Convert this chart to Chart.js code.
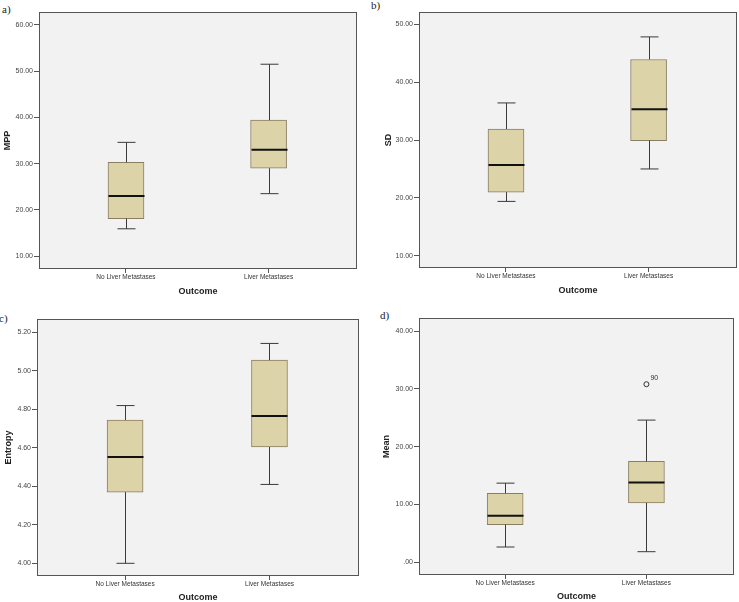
<!DOCTYPE html>
<html>
<head>
<meta charset="utf-8">
<script src="https://cdn.jsdelivr.net/npm/chart.js@4"></script>
<style>
  body { margin: 0; background: #fff; width: 739px; height: 602px; position: relative; overflow: hidden; }
  canvas { position: absolute; }
  .tag { position: absolute; font-family: "Liberation Serif", serif; font-size: 11px; color: #222; }
</style>
</head>
<body>
<div class="tag" style="left:2px;top:3px">a)</div>
<div class="tag" style="left:371px;top:-1px">b)</div>
<div class="tag" style="left:-1px;top:312px">c)</div>
<div class="tag" style="left:380px;top:309px">d)</div>
<canvas id="cA" width="370" height="300" style="left:0;top:0"></canvas>
<canvas id="cB" width="369" height="300" style="left:370px;top:0"></canvas>
<canvas id="cC" width="370" height="302" style="left:0;top:300px"></canvas>
<canvas id="cD" width="369" height="302" style="left:370px;top:300px"></canvas>
<script>
const categories = ["No Liver Metastases", "Liver Metastases"];

// a) MPP
const mppLow = [15.9, 23.5];
const mppQ1 = [18.1, 29.0];
const mppMed = [23.0, 33.0];
const mppQ3 = [30.3, 39.4];
const mppHigh = [34.6, 51.5];
const mppTicks = [10, 20, 30, 40, 50, 60];

// b) SD
const sdLow = [19.4, 25.0];
const sdQ1 = [21.0, 29.9];
const sdMed = [25.7, 35.3];
const sdQ3 = [31.9, 43.9];
const sdHigh = [36.4, 47.8];
const sdTicks = [10, 20, 30, 40, 50];

// c) Entropy
const entLow = [4.00, 4.41];
const entQ1 = [4.37, 4.605];
const entMed = [4.553, 4.766];
const entQ3 = [4.745, 5.056];
const entHigh = [4.82, 5.143];
const entTicks = [4.0, 4.2, 4.4, 4.6, 4.8, 5.0, 5.2];

// d) Mean
const meanLow = [2.66, 1.85];
const meanQ1 = [6.54, 10.29];
const meanMed = [8.05, 13.82];
const meanQ3 = [11.95, 17.46];
const meanHigh = [13.7, 24.6];
const meanTicks = [0, 10, 20, 30, 40];
const meanOutliers = [{ cat: 1, value: 30.8, caseNo: "90" }];

Chart.defaults.font.family = "'Liberation Sans', Arial, sans-serif";

function spssLabel(v) {
  let s = Number(v).toFixed(2);
  if (s.startsWith("0.")) s = s.slice(1);
  return s;
}

function boxParts(st) {
  return {
    id: "boxParts",
    beforeDraw(chart) {
      const a = chart.chartArea, ctx = chart.ctx;
      ctx.save();
      ctx.fillStyle = "#f2f2f2";
      ctx.fillRect(a.left, a.top, a.right - a.left, a.bottom - a.top);
      ctx.restore();
    },
    afterDatasetsDraw(chart) {
      const xs = chart.scales.x, ys = chart.scales.y, ctx = chart.ctx;
      ctx.save();
      st.low.forEach((lo, i) => {
        const px = Math.round(xs.getPixelForValue(i)) + 0.5;
        const yLo = ys.getPixelForValue(lo), yHi = ys.getPixelForValue(st.high[i]);
        const yQ1 = ys.getPixelForValue(st.q1[i]), yQ3 = ys.getPixelForValue(st.q3[i]);
        const yMed = ys.getPixelForValue(st.med[i]);
        ctx.strokeStyle = "#3a3a3a";
        ctx.lineWidth = 1;
        ctx.beginPath();
        ctx.moveTo(px, yLo); ctx.lineTo(px, yQ1);
        ctx.moveTo(px, yQ3); ctx.lineTo(px, yHi);
        ctx.moveTo(px - 9, yLo); ctx.lineTo(px + 9, yLo);
        ctx.moveTo(px - 9, yHi); ctx.lineTo(px + 9, yHi);
        ctx.stroke();
        ctx.strokeStyle = "#111";
        ctx.lineWidth = 2;
        ctx.beginPath();
        ctx.moveTo(px - 18, yMed); ctx.lineTo(px + 18, yMed);
        ctx.stroke();
      });
      if (st.outliers) {
        const meta = chart.getDatasetMeta(1);
        ctx.fillStyle = "#333";
        ctx.font = "7px 'Liberation Sans', Arial, sans-serif";
        ctx.textAlign = "left";
        ctx.textBaseline = "middle";
        meta.data.forEach((pt, k) => {
          ctx.fillText(st.outliers[k].caseNo, pt.x + 4, pt.y - 6);
        });
      }
      ctx.restore();
    },
    afterDraw(chart) {
      const a = chart.chartArea, ctx = chart.ctx;
      ctx.save();
      ctx.strokeStyle = "#555";
      ctx.lineWidth = 1;
      ctx.strokeRect(Math.round(a.left) + 0.5, Math.round(a.top) + 0.5,
        Math.round(a.right - a.left) - 1, Math.round(a.bottom - a.top) - 1);
      ctx.restore();
    }
  };
}

function makePanel(id, st, cfg) {
  const datasets = [{
    type: "bar",
    data: categories.map((c, i) => ({ x: i, y: [st.q1[i], st.q3[i]] })),
    backgroundColor: "#ddd3a8",
    borderColor: "#8a7e62",
    borderWidth: 1,
    borderSkipped: false,
    barThickness: 36
  }];
  if (st.outliers) {
    datasets.push({
      type: "scatter",
      data: st.outliers.map(o => ({ x: o.cat, y: o.value })),
      pointRadius: 2.5,
      pointBackgroundColor: "#f2f2f2",
      pointBorderColor: "#333",
      pointBorderWidth: 1
    });
  }
  new Chart(document.getElementById(id), {
    type: "bar",
    data: { datasets: datasets },
    options: {
      responsive: false,
      animation: false,
      devicePixelRatio: 1,
      layout: { padding: { top: cfg.top, right: cfg.right, left: 0, bottom: 0 } },
      plugins: { legend: { display: false }, tooltip: { enabled: false } },
      scales: {
        x: {
          type: "linear",
          min: -0.61,
          max: 1.62,
          offset: false,
          grid: { offset: false, drawOnChartArea: false, tickLength: 4, color: "#555" },
          border: { display: false },
          afterBuildTicks: s => { s.ticks = categories.map((c, i) => ({ value: i })); },
          afterFit: s => { s.height = cfg.xH; },
          ticks: {
            padding: 0,
            autoSkip: false,
            maxRotation: 0,
            color: "#333",
            font: { size: 6.5 },
            callback: v => categories[v]
          },
          title: {
            display: true,
            text: "Outcome",
            color: "#222",
            font: { size: 9, weight: "bold", lineHeight: 1 },
            padding: { top: 0, bottom: cfg.xTitlePad }
          }
        },
        y: {
          min: cfg.yMin,
          max: cfg.yMax,
          grid: { drawOnChartArea: false, tickLength: 5, color: "#555" },
          border: { display: false },
          afterBuildTicks: s => { s.ticks = cfg.ticks.map(v => ({ value: v })); },
          afterFit: s => { s.width = cfg.yW; },
          ticks: { padding: 1, color: "#444", font: { size: 7 }, callback: v => spssLabel(v) },
          title: {
            display: true,
            text: cfg.yTitle,
            color: "#222",
            font: { size: 9, weight: "bold", lineHeight: 1 },
            padding: { top: cfg.yTitlePad, bottom: 0 }
          }
        }
      }
    },
    plugins: [boxParts(st)]
  });
}

makePanel("cA",
  { low: mppLow, q1: mppQ1, med: mppMed, q3: mppQ3, high: mppHigh },
  { top: 12, right: 13, xH: 31, yW: 39, yMin: 7.2, yMax: 62.8, ticks: mppTicks, yTitle: "MPP", yTitlePad: 3, xTitlePad: 4 });
makePanel("cB",
  { low: sdLow, q1: sdQ1, med: sdMed, q3: sdQ3, high: sdHigh },
  { top: 12, right: 2, xH: 32, yW: 49, yMin: 7.9, yMax: 52.1, ticks: sdTicks, yTitle: "SD", yTitlePad: 14, xTitlePad: 5 });
makePanel("cC",
  { low: entLow, q1: entQ1, med: entMed, q3: entQ3, high: entHigh },
  { top: 19, right: 11, xH: 26, yW: 37, yMin: 3.934, yMax: 5.27, ticks: entTicks, yTitle: "Entropy", yTitlePad: 4, xTitlePad: 0 });
makePanel("cD",
  { low: meanLow, q1: meanQ1, med: meanMed, q3: meanQ3, high: meanHigh, outliers: meanOutliers },
  { top: 18, right: 2, xH: 27, yW: 49, yMin: -2.18, yMax: 42.25, ticks: meanTicks, yTitle: "Mean", yTitlePad: 12, xTitlePad: 1 });
</script>
</body>
</html>
